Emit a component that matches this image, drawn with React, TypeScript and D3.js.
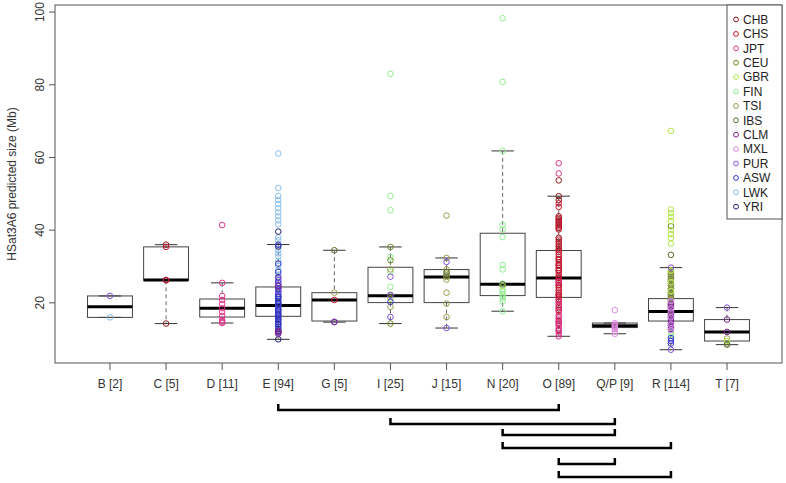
import * as d3 from 'd3';

// categories and box statistics (Mb)
const categories = ['B [2]', 'C [5]', 'D [11]', 'E [94]', 'G [5]', 'I [25]', 'J [15]', 'N [20]', 'O [89]', 'Q/P [9]', 'R [114]', 'T [7]'];
const whiskLo = [16.0, 14.3, 14.45, 9.96, 14.7, 14.3, 13.07, 17.7, 10.8, 11.5, 7.1, 8.5];
const hingeLo = [16.0, 26.2, 16.1, 16.3, 15.0, 20.07, 20.07, 22.0, 21.5, 13.2, 15.0, 9.5];
const medians = [18.95, 26.3, 18.5, 19.24, 20.8, 21.94, 27.13, 25.1, 26.84, 13.73, 17.6, 12.0];
const hingeHi = [21.9, 35.4, 21.06, 24.37, 22.8, 29.79, 29.16, 39.15, 34.4, 14.45, 21.17, 15.4];
const whiskHi = [21.9, 36.0, 25.5, 36.04, 34.47, 35.38, 32.35, 61.8, 49.35, 14.45, 29.7, 18.7];

const populations = ['CHB', 'CHS', 'JPT', 'CEU', 'GBR', 'FIN', 'TSI', 'IBS', 'CLM', 'MXL', 'PUR', 'ASW', 'LWK', 'YRI'];
const popColors = ['#8b1a1a', '#c8102e', '#e0338a', '#6b8e23', '#b4e84a', '#90ee90', '#9c9c4c', '#556b2f', '#7a1f8f', '#dd88dd', '#8855dd', '#3333cc', '#87beeb', '#1c1c6b'];

// individual samples per category: [population, values]
const ptsB: [string, number[]][] = [['PUR', [21.9]], ['LWK', [16.0]]];
const ptsC: [string, number[]][] = [['CHB', [36.0, 26.2, 14.3]], ['CHS', [35.4, 26.3]]];
const ptsD: [string, number[]][] = [['JPT', [41.4, 25.5, 21.9, 20.8, 19.7, 18.5, 17.5, 16.4, 15.3, 14.8, 14.45]]];
const ptsE: [string, number[]][] = [
  ['LWK', [61.1, 51.6, 49.4, 48.3, 47.2, 46.0, 44.9, 43.8, 42.7, 41.6, 38.0, 37.2, 36.0, 34.5, 33.6, 32.8, 31.5, 30.2, 29.0, 27.8, 22.0, 19.5]],
  ['YRI', [39.6, 35.5, 27.0, 24.0, 21.5, 20.0, 18.2, 16.8, 15.5, 14.2, 12.9, 9.96]],
  ['ASW', [36.0, 30.8, 28.5, 26.2, 25.5, 24.8, 23.6, 23.0, 22.4, 21.8, 21.0, 20.5, 19.8, 19.2, 18.7, 18.0, 17.5, 17.0, 16.4, 15.9, 15.2, 14.7, 14.0, 13.5, 12.4, 11.8]],
  ['PUR', [26.8, 25.0, 23.2]],
  ['CLM', [24.6, 12.2, 12.0, 11.5]],
];
const ptsG: [string, number[]][] = [['IBS', [34.47]], ['TSI', [22.8]], ['CHS', [20.8]], ['PUR', [14.8]], ['CLM', [14.7]]];
const ptsI: [string, number[]][] = [
  ['FIN', [83.0, 49.4, 45.5, 32.6, 28.6, 24.4]],
  ['CEU', [35.38, 31.7, 14.3]],
  ['TSI', [29.2, 18.9]],
  ['GBR', [21.2]],
  ['IBS', [22.2]],
  ['PUR', [27.2, 22.0, 16.1]],
  ['ASW', [20.3]],
];
const ptsJ: [string, number[]][] = [
  ['TSI', [44.0, 32.35, 29.2, 28.1, 27.1, 26.4, 22.8, 19.8, 16.1]],
  ['IBS', [28.5, 27.5]],
  ['PUR', [31.25, 13.07]],
];
const ptsN: [string, number[]][] = [
  ['FIN', [98.3, 80.8, 61.8, 41.4, 40.2, 38.1, 30.4, 29.2, 25.3, 23.7, 23.1, 22.4, 21.8, 21.2, 20.4, 17.7]],
  ['GBR', [24.6]],
  ['IBS', [25.1]],
];
const ptsO: [string, number[]][] = [
  ['CHB', [53.7, 49.35, 48.3, 43.8, 43.0, 42.2, 41.4, 40.6, 37.9, 36.8, 35.6, 34.5, 32.0, 30.5, 29.0, 27.0, 25.0, 22.0, 18.5, 15.0, 12.5]],
  ['CHS', [47.4, 46.4, 43.4, 42.6, 41.8, 41.0, 40.2, 37.4, 36.2, 35.0, 34.0, 33.3, 32.6, 31.8, 31.1, 30.2, 29.6, 28.8, 28.1, 27.4, 26.8, 26.1, 25.5, 24.8, 24.2, 23.5, 22.8, 22.3, 21.6, 21.0, 20.2, 19.4, 18.0, 16.5, 14.2]],
  ['JPT', [58.4, 55.6, 25.8, 20.6, 19.0, 17.5, 16.0, 15.4, 14.6, 13.8, 13.0, 12.2, 11.5, 10.8]],
];
const ptsQP: [string, number[]][] = [['MXL', [18.0, 14.4, 14.0, 13.7, 13.5, 13.2, 12.8, 12.2, 11.5]]];
const ptsR: [string, number[]][] = [
  ['CEU', [41.1, 28.5, 27.3, 26.0, 24.8, 23.5, 22.0, 20.8, 19.0]],
  ['IBS', [33.2, 28.0, 26.6, 25.3, 24.0, 22.8, 21.4, 18.0]],
  ['TSI', [29.0, 27.8, 26.3, 25.0, 23.8, 22.4, 21.0, 19.5, 16.5]],
  ['GBR', [67.3, 45.7, 44.7, 43.6, 42.5, 40.0, 38.9, 37.8, 36.3, 28.8, 25.6, 23.2, 20.0, 17.0]],
  ['FIN', [12.0, 11.1]],
  ['PUR', [29.7, 20.3, 19.3, 18.3, 17.3, 16.3, 15.3, 14.3, 13.3, 7.1]],
  ['CLM', [19.8, 18.8, 17.8, 16.8, 15.8, 14.8, 13.8, 12.8]],
  ['MXL', [20.5, 18.5, 17.6, 16.0, 14.0, 12.5]],
  ['ASW', [10.3, 9.5, 8.8]],
];
const ptsT: [string, number[]][] = [['PUR', [18.7]], ['CLM', [15.4, 12.0]], ['TSI', [10.2, 8.8]], ['GBR', [9.5]], ['IBS', [8.5]]];
const samples = [ptsB, ptsC, ptsD, ptsE, ptsG, ptsI, ptsJ, ptsN, ptsO, ptsQP, ptsR, ptsT];

const yTicks = [20, 40, 60, 80, 100];

// significance brackets between categories
const brackets: [string, string][] = [
  ['E [94]', 'O [89]'],
  ['I [25]', 'Q/P [9]'],
  ['N [20]', 'Q/P [9]'],
  ['N [20]', 'R [114]'],
  ['O [89]', 'Q/P [9]'],
  ['O [89]', 'R [114]'],
];
const bracketY = [410, 424, 435, 448, 464, 477];

const W = 786, H = 483;
const plot = { left: 55, right: 782, top: 5, bottom: 363 };
const font = 'Liberation Sans, Arial, sans-serif';

export default function App() {
  const allVals = samples.flatMap(s => s.flatMap(([, v]) => v));
  const lo = d3.min(allVals) as number, hi = d3.max(allVals) as number;
  const pad = (hi - lo) * 0.04;
  const y = d3.scaleLinear().domain([lo - pad, hi + pad]).range([plot.bottom, plot.top]);
  const n = categories.length;
  const x = d3.scaleLinear().domain([0.5 - n * 0.04, n + 0.5 + n * 0.04]).range([plot.left, plot.right]);
  const cx = (i: number) => x(i + 1);
  const unit = x(1) - x(0);
  const bw = unit * 0.8;
  const color = d3.scaleOrdinal<string, string>().domain(populations).range(popColors);
  const idx = (c: string) => categories.indexOf(c);

  return (
    <svg width={W} height={H} style={{ position: 'absolute', left: 0, top: 0, background: '#fff' }} fontFamily={font}>
      <rect width={W} height={H} fill="#fff" />
      {/* boxes */}
      {categories.map((c, i) => {
        const xc = cx(i);
        return (
          <g key={c}>
            <line x1={xc} x2={xc} y1={y(whiskHi[i])} y2={y(hingeHi[i])} stroke="#666" strokeDasharray="4,3" />
            <line x1={xc} x2={xc} y1={y(hingeLo[i])} y2={y(whiskLo[i])} stroke="#666" strokeDasharray="4,3" />
            <line x1={xc - bw / 4} x2={xc + bw / 4} y1={y(whiskHi[i])} y2={y(whiskHi[i])} stroke="#333" />
            <line x1={xc - bw / 4} x2={xc + bw / 4} y1={y(whiskLo[i])} y2={y(whiskLo[i])} stroke="#333" />
            <rect x={xc - bw / 2} width={bw} y={y(hingeHi[i])} height={y(hingeLo[i]) - y(hingeHi[i])} fill="none" stroke="#444" />
            <line x1={xc - bw / 2} x2={xc + bw / 2} y1={y(medians[i])} y2={y(medians[i])} stroke="#000" strokeWidth={3} />
          </g>
        );
      })}
      {/* points */}
      {samples.map((s, i) =>
        s.map(([pop, vals]) =>
          vals.map((v, k) => (
            <circle key={`${i}-${pop}-${k}`} cx={cx(i)} cy={y(v)} r={2.8} fill="none" stroke={color(pop)} strokeWidth={1} />
          ))
        )
      )}
      {/* frame */}
      <rect x={plot.left} y={plot.top} width={plot.right - plot.left} height={plot.bottom - plot.top} fill="none" stroke="#555" />
      {/* y axis */}
      {yTicks.map(t => (
        <g key={t}>
          <line x1={plot.left - 6} x2={plot.left} y1={y(t)} y2={y(t)} stroke="#555" />
          <text transform={`translate(${plot.left - 11},${y(t)}) rotate(-90)`} textAnchor="middle" fontSize={12} fill="#333">{t}</text>
        </g>
      ))}
      <text transform={`translate(16,${(plot.top + plot.bottom) / 2}) rotate(-90)`} textAnchor="middle" fontSize={12} fill="#333">HSat3A6 predicted size (Mb)</text>
      {/* x axis */}
      {categories.map((c, i) => (
        <g key={c}>
          <line x1={cx(i)} x2={cx(i)} y1={plot.bottom} y2={plot.bottom + 7} stroke="#555" />
          <text x={cx(i)} y={plot.bottom + 25} textAnchor="middle" fontSize={12} fill="#333">{c}</text>
        </g>
      ))}
      {/* legend */}
      <rect x={727} y={plot.top} width={plot.right - 727} height={214} fill="#fff" stroke="#555" />
      {populations.map((p, i) => (
        <g key={p}>
          <circle cx={736} cy={19.5 + i * 14.4} r={2.4} fill="none" stroke={color(p)} />
          <text x={743} y={19.5 + i * 14.4 + 4.3} fontSize={12} fill="#222">{p}</text>
        </g>
      ))}
      {/* brackets */}
      {brackets.map(([a, b], k) => {
        const x1 = cx(idx(a)), x2 = cx(idx(b)), yy = bracketY[k];
        return (
          <path key={k} d={`M${x1},${yy - 6}V${yy}H${x2}V${yy - 6}`} fill="none" stroke="#000" strokeWidth={2.5} />
        );
      })}
    </svg>
  );
}
